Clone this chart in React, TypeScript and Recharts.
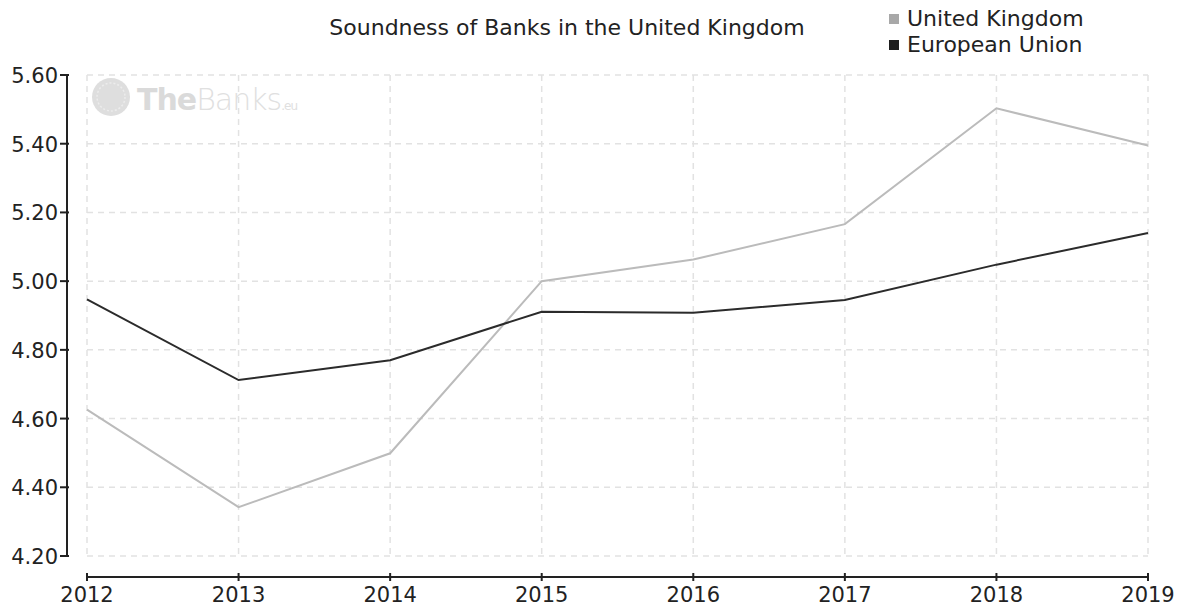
import React from 'react';
import { LineChart, Line, XAxis, YAxis, CartesianGrid } from 'recharts';

const years = ['2012', '2013', '2014', '2015', '2016', '2017', '2018', '2019'];
const unitedKingdom = [4.626, 4.342, 4.499, 5.0, 5.063, 5.166, 5.503, 5.395];
const europeanUnion = [4.947, 4.712, 4.77, 4.911, 4.908, 4.945, 5.048, 5.14];
const yTicks = [4.2, 4.4, 4.6, 4.8, 5.0, 5.2, 5.4, 5.6];

const series = [
  { key: 'uk', name: 'United Kingdom', color: '#bbbbbb', swatch: '#a8a8a8' },
  { key: 'eu', name: 'European Union', color: '#2b2b2b', swatch: '#1e1e1e' },
];

const data = years.map((year, i) => ({ year, uk: unitedKingdom[i], eu: europeanUnion[i] }));

const FONT = '"DejaVu Sans", Verdana, sans-serif';

function YTick({ x, y, payload }: any) {
  return (
    <text x={x - 18} y={y} dy={8} textAnchor="end" fontFamily={FONT} fontSize={21} fill="#222">
      {Number(payload.value).toFixed(2)}
    </text>
  );
}

function XTick({ x, y, payload }: any) {
  return (
    <text x={x} y={y + 36} textAnchor="middle" fontFamily={FONT} fontSize={21} fill="#222">
      {payload.value}
    </text>
  );
}

// legend drawn by hand so it does not eat into the plot width
function LegendBox() {
  return (
    <g fontFamily={FONT} fontSize={22} fill="#222">
      {series.map((s, i) => (
        <g key={s.key}>
          <rect x={889} y={14 + i * 26} width={10} height={10} fill={s.swatch} />
          <text x={907} y={26 + i * 26}>
            {s.name}
          </text>
        </g>
      ))}
    </g>
  );
}

function Watermark() {
  return (
    <g>
      <circle cx={111} cy={97} r={19} fill="#dedede" />
      <circle cx={111} cy={97} r={14} fill="none" stroke="#ececec" strokeWidth={1.5} strokeDasharray="2 2" />
      <text x={137} y={110} fontFamily={FONT} fontSize={30} fill="#dadada" letterSpacing={-1}>
        <tspan fontWeight="bold">The</tspan>
        <tspan fontWeight={300} fill="#e0e0e0">Banks</tspan>
        <tspan fontSize={12} fill="#e0e0e0">.eu</tspan>
      </text>
    </g>
  );
}

export default function App() {
  return (
    <div style={{ position: 'absolute', left: 0, top: 0, width: 1179, height: 604, background: '#fff' }}>
      <LineChart width={1179} height={604} data={data} margin={{ top: 75, right: 31, bottom: 0, left: 0 }}>
        <Watermark />
        <text x={567} y={35} textAnchor="middle" fontFamily={FONT} fontSize={22} fill="#222">
          Soundness of Banks in the United Kingdom
        </text>
        <LegendBox />
        <CartesianGrid stroke="#e2e2e2" strokeWidth={1.5} strokeDasharray="6 5" />
        <XAxis
          dataKey="year"
          height={48}
          interval={0}
          tickSize={8}
          axisLine={{ stroke: '#222', strokeWidth: 2, transform: 'translate(0,21)' }}
          tickLine={{ stroke: '#222', strokeWidth: 2, transform: 'translate(0,17)' }}
          tick={<XTick />}
        />
        <YAxis
          width={87}
          domain={[4.2, 5.6]}
          ticks={yTicks}
          tickSize={9}
          axisLine={{ stroke: '#222', strokeWidth: 2, transform: 'translate(-20,0)' }}
          tickLine={{ stroke: '#222', strokeWidth: 2, transform: 'translate(-18,0)' }}
          tick={<YTick />}
        />
        {series.map((s) => (
          <Line
            key={s.key}
            type="linear"
            dataKey={s.key}
            name={s.name}
            stroke={s.color}
            strokeWidth={2}
            dot={false}
            activeDot={false}
            isAnimationActive={false}
          />
        ))}
      </LineChart>
    </div>
  );
}
